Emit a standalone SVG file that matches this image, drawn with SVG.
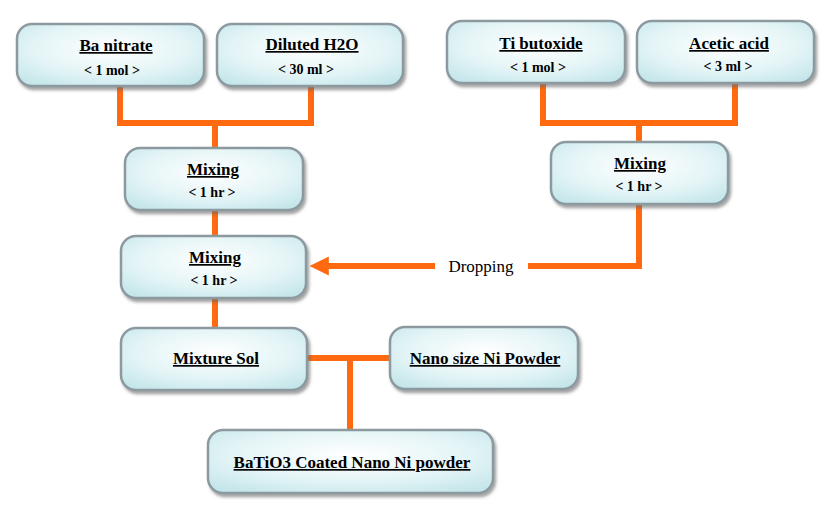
<svg xmlns="http://www.w3.org/2000/svg" width="835" height="522" viewBox="0 0 835 522">
<defs>
<radialGradient id="g" cx="0.5" cy="0.4" r="0.7">
<stop offset="0" stop-color="#ffffff"/>
<stop offset="0.6" stop-color="#e3f4f6"/>
<stop offset="1" stop-color="#c4e6ea"/>
</radialGradient>
<filter id="sh" x="-10%" y="-10%" width="130%" height="140%">
<feDropShadow dx="2" dy="3" stdDeviation="1.5" flood-color="#666" flood-opacity="0.6"/>
</filter>
<marker id="ah" viewBox="0 0 10 10" refX="2" refY="5" markerWidth="3.2" markerHeight="3.2" orient="auto">
<path d="M0,0 L10,5 L0,10 z" fill="#ff6a10"/>
</marker>
</defs>
<style>
.box{fill:url(#g);stroke:#8c9aa0;stroke-width:2.5;filter:url(#sh)}
text{font-family:'Liberation Serif','Times New Roman','DejaVu Serif',serif}
.t{font-weight:bold;font-size:17px;text-anchor:middle;text-decoration:underline;fill:#000}
.s{font-weight:bold;font-size:14px;text-anchor:middle;fill:#000}
.c{fill:none;stroke:#ff6a10;stroke-width:6}
.l{font-size:17px;text-anchor:middle;fill:#000}
</style>
<rect width="835" height="522" fill="#fff"/>
<g id="connectors">
<path class="c" d="M120,86 V123 H311 V86 M215,123 V148"/>
<path class="c" d="M543,83 V123 H735 V83 M639,123 V142"/>
<path class="c" d="M215,210 V236"/>
<path class="c" d="M639,204 V266 H528"/>
<path class="c" d="M435,266 H325" marker-end="url(#ah)"/>
<text class="l" x="481" y="272" font-family="Liberation Serif, serif">Dropping</text>
<path class="c" d="M215,298 V328"/>
<path class="c" d="M307,358 H390 M350,358 V430"/>
</g>
<g id="ba-nitrate"><rect class="box" x="17" y="24" width="187" height="62" rx="15"/><text class="t" x="116" y="51" font-family="Liberation Serif, serif">Ba nitrate</text><text class="s" x="112" y="75" font-family="Liberation Serif, serif">&lt; 1 mol &gt;</text></g>
<g id="diluted-h2o"><rect class="box" x="217" y="24" width="186" height="62" rx="15"/><text class="t" x="312" y="50" font-family="Liberation Serif, serif">Diluted H2O</text><text class="s" x="306" y="74" font-family="Liberation Serif, serif">&lt; 30 ml &gt;</text></g>
<g id="ti-butoxide"><rect class="box" x="447" y="21" width="178" height="62" rx="15"/><text class="t" x="541" y="49" font-family="Liberation Serif, serif">Ti butoxide</text><text class="s" x="538" y="72" font-family="Liberation Serif, serif">&lt; 1 mol &gt;</text></g>
<g id="acetic-acid"><rect class="box" x="637" y="21" width="177" height="62" rx="15"/><text class="t" x="729" y="49" font-family="Liberation Serif, serif">Acetic acid</text><text class="s" x="728" y="71" font-family="Liberation Serif, serif">&lt; 3 ml &gt;</text></g>
<g id="mixing-1"><rect class="box" x="125" y="148" width="178" height="62" rx="15"/><text class="t" x="213" y="175" font-family="Liberation Serif, serif">Mixing</text><text class="s" x="212" y="197" font-family="Liberation Serif, serif">&lt; 1 hr &gt;</text></g>
<g id="mixing-right"><rect class="box" x="551" y="142" width="177" height="62" rx="15"/><text class="t" x="640" y="169" font-family="Liberation Serif, serif">Mixing</text><text class="s" x="639" y="191" font-family="Liberation Serif, serif">&lt; 1 hr &gt;</text></g>
<g id="mixing-2"><rect class="box" x="121" y="236" width="185" height="62" rx="15"/><text class="t" x="215" y="263" font-family="Liberation Serif, serif">Mixing</text><text class="s" x="214" y="285" font-family="Liberation Serif, serif">&lt; 1 hr &gt;</text></g>
<g id="mixture-sol"><rect class="box" x="121" y="328" width="186" height="62" rx="15"/><text class="t" x="216" y="364" font-family="Liberation Serif, serif">Mixture Sol</text></g>
<g id="nano-ni"><rect class="box" x="390" y="327" width="188" height="62" rx="15"/><text class="t" x="485" y="364" font-family="Liberation Serif, serif">Nano size Ni Powder</text></g>
<g id="batio3"><rect class="box" x="208" y="430" width="285" height="63" rx="15"/><text class="t" x="352" y="468" font-family="Liberation Serif, serif">BaTiO3 Coated Nano Ni powder</text></g>
</svg>
